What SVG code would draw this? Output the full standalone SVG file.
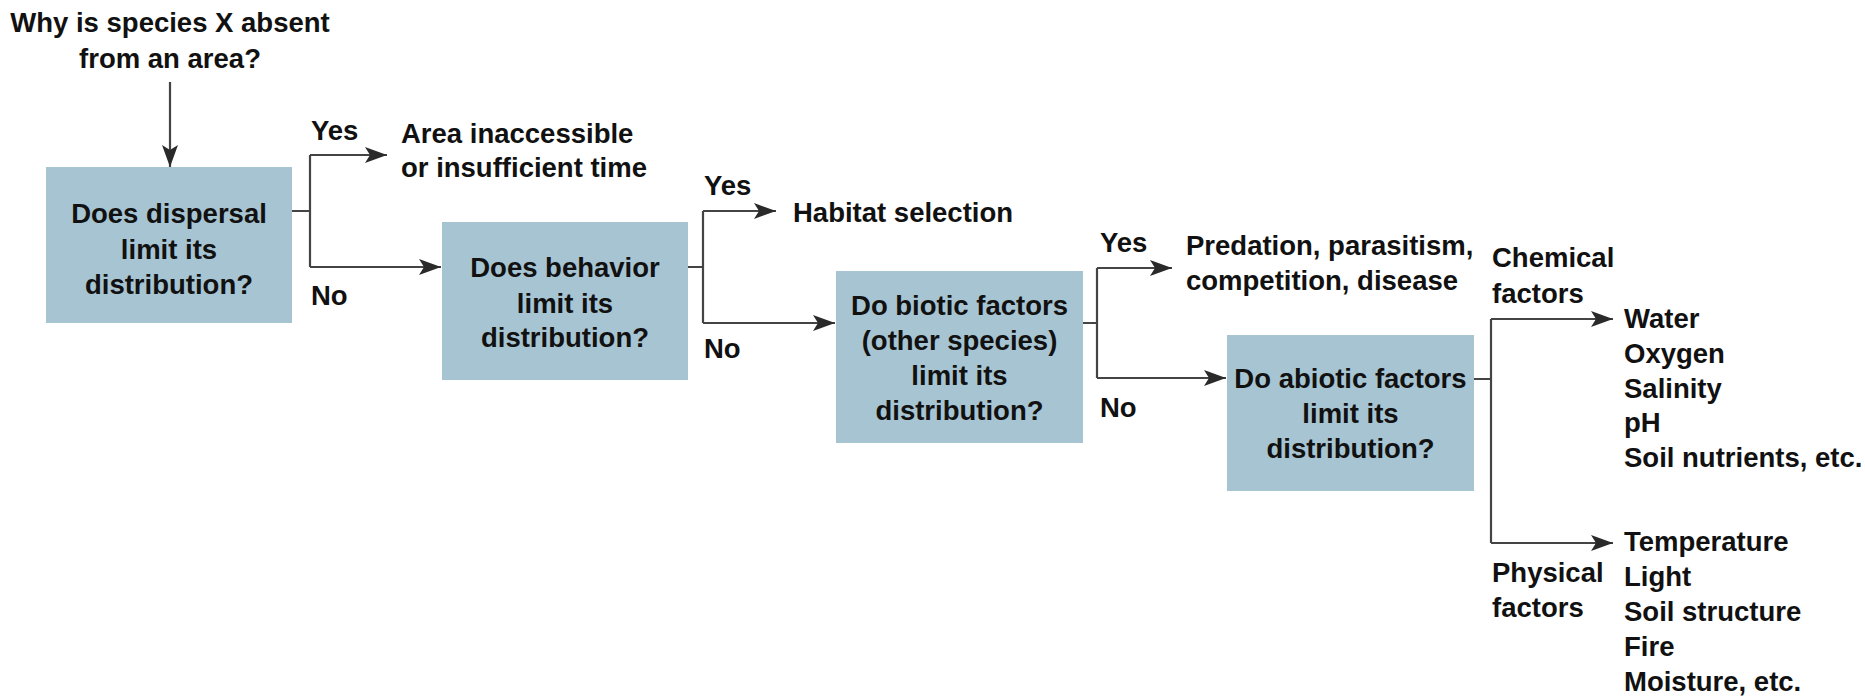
<svg xmlns="http://www.w3.org/2000/svg" width="1865" height="698" viewBox="0 0 1865 698">
<style>
text{font-family:"Liberation Sans",Arial,sans-serif;font-weight:bold;font-size:27.5px;fill:#111}
.c{text-anchor:middle}
.box{fill:#a7c4d2}
.ln{fill:none;stroke:#444;stroke-width:2.2}
.ar{marker-end:url(#ah)}
</style>
<defs>
<marker id="ah" markerUnits="userSpaceOnUse" markerWidth="24" markerHeight="18" refX="22" refY="8" orient="auto">
<path d="M0,0 L22,8 L0,16 L5,8 Z" fill="#2a2a2a"/>
</marker>
</defs>
<rect width="1865" height="698" fill="#fff"/>
<g id="title">
<text class="c" x="170" y="32">Why is species X absent</text>
<text class="c" x="170" y="68">from an area?</text>
</g>
<g id="q1">
<rect class="box" x="46" y="167" width="246" height="156"/>
<text class="c" x="169" y="223">Does dispersal</text>
<text class="c" x="169" y="259">limit its</text>
<text class="c" x="169" y="294">distribution?</text>
</g>
<g id="r1">
<text x="401" y="143">Area inaccessible</text>
<text x="401" y="177">or insufficient time</text>
</g>
<g id="q2">
<rect class="box" x="442" y="222" width="246" height="158"/>
<text class="c" x="565" y="277">Does behavior</text>
<text class="c" x="565" y="313">limit its</text>
<text class="c" x="565" y="347">distribution?</text>
</g>
<g id="r2">
<text x="793" y="222">Habitat selection</text>
</g>
<g id="q3">
<rect class="box" x="836" y="271" width="247" height="172"/>
<text class="c" x="959.5" y="315">Do biotic factors</text>
<text class="c" x="959.5" y="350">(other species)</text>
<text class="c" x="959.5" y="385">limit its</text>
<text class="c" x="959.5" y="420">distribution?</text>
</g>
<g id="r3">
<text x="1186" y="255">Predation, parasitism,</text>
<text x="1186" y="290">competition, disease</text>
</g>
<g id="q4">
<rect class="box" x="1227" y="335" width="247" height="156"/>
<text class="c" x="1350.5" y="388">Do abiotic factors</text>
<text class="c" x="1350.5" y="423">limit its</text>
<text class="c" x="1350.5" y="458">distribution?</text>
</g>
<g id="chem">
<text x="1624" y="328">Water</text>
<text x="1624" y="363">Oxygen</text>
<text x="1624" y="398">Salinity</text>
<text x="1624" y="432">pH</text>
<text x="1624" y="467">Soil nutrients, etc.</text>
</g>
<g id="phys">
<text x="1624" y="551">Temperature</text>
<text x="1624" y="586">Light</text>
<text x="1624" y="621">Soil structure</text>
<text x="1624" y="656">Fire</text>
<text x="1624" y="691">Moisture, etc.</text>
</g>
<g id="connectors">
<path class="ln ar" d="M170,82 V167"/>
<path class="ln" d="M292,211 H310 M310,155 V267"/>
<path class="ln ar" d="M310,155 H387"/>
<path class="ln ar" d="M310,267 H441"/>
<path class="ln" d="M688,267 H703 M703,211 V323"/>
<path class="ln ar" d="M703,211 H776"/>
<path class="ln ar" d="M703,323 H835"/>
<path class="ln" d="M1083,323 H1097 M1097,268 V378"/>
<path class="ln ar" d="M1097,268 H1172"/>
<path class="ln ar" d="M1097,378 H1226"/>
<path class="ln" d="M1474,379 H1491 M1491,319 V543"/>
<path class="ln ar" d="M1491,319 H1613"/>
<path class="ln ar" d="M1491,543 H1613"/>
<text x="311" y="140">Yes</text>
<text x="311" y="305">No</text>
<text x="704" y="195">Yes</text>
<text x="704" y="358">No</text>
<text x="1100" y="252">Yes</text>
<text x="1100" y="417">No</text>
<text x="1492" y="267">Chemical</text>
<text x="1492" y="303">factors</text>
<text x="1492" y="582">Physical</text>
<text x="1492" y="617">factors</text>
</g>
</svg>
